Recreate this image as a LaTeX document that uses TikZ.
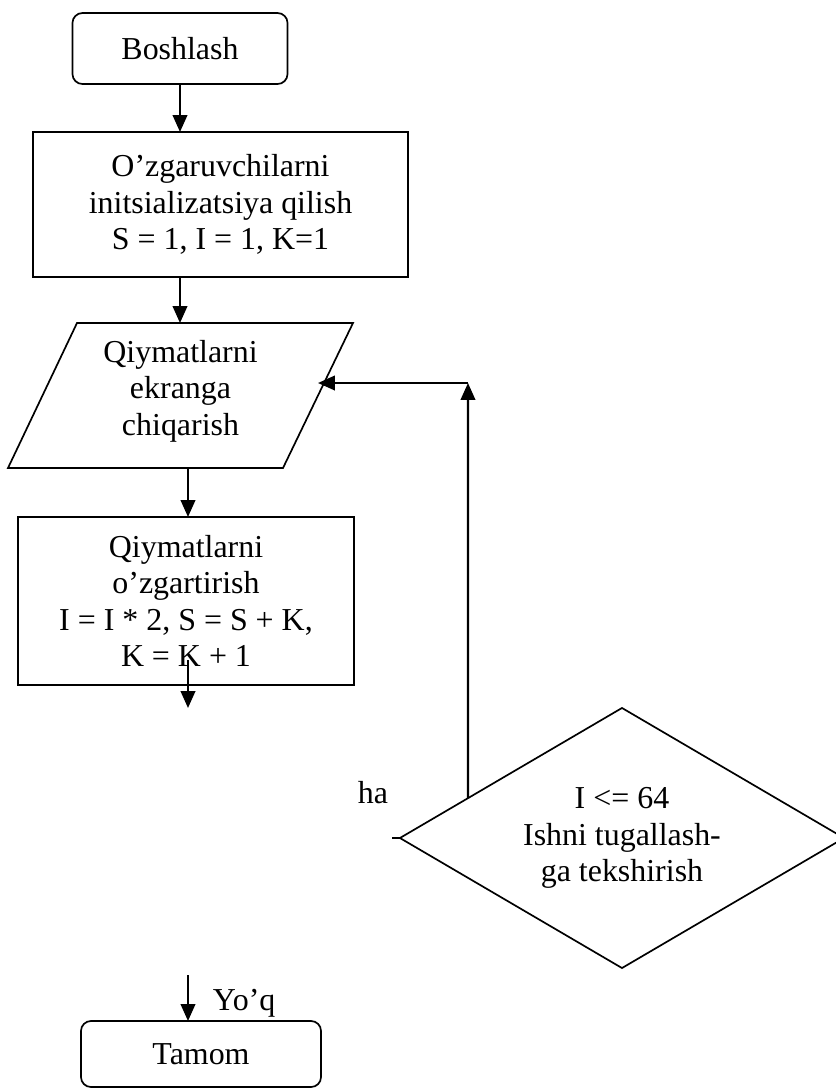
\documentclass[tikz,border=0pt]{standalone}
\usepackage{fontspec}
\setmainfont{Liberation Serif}
\usepackage{tikz}
\usetikzlibrary{arrows.meta}
\usetikzlibrary{shapes.geometric}
\usetikzlibrary{positioning}
\usetikzlibrary{calc}
\tikzset{
    >={Triangle[width=0.36cm,length=0.42cm]},
    bigtext/.style={font=\fontsize{22.7}{26}\selectfont},
    terminal/.style={draw=black, rounded corners=0.25cm, line width=1.2pt,
        align=center, inner sep=0pt, outer sep=0pt},
    process/.style={draw=black, line width=1.2pt,
        align=center, inner sep=0pt, outer sep=0pt},
    inout/.style={draw=black, line width=1.2pt, line join=miter},
    decision/.style={draw=black, diamond, aspect=1.7, line width=1.2pt,
        align=center, inner sep=0pt, outer sep=0pt},
    flow/.style={draw=black, line width=1.6pt, ->},
    flowline/.style={draw=black, line width=1.2pt},
}

\begin{document}
\begin{tikzpicture}[x=0.025cm, y=-0.025cm, every node/.append style={bigtext}]
\useasboundingbox (0,0) rectangle (836,1088);
% blocks
\node[terminal, minimum width=5.375cm, minimum height=1.775cm] (start) at (180,48.5) {Boshlash};
\node[process, minimum width=9.375cm, minimum height=3.625cm] (init) at (220.5,204.5)
    {O’zgaruvchilarni\\initsializatsiya qilish\\S = 1, I = 1, K=1};
% input/output block
\draw[inout] (77,323) -- (353,323) -- (283,468) -- (8,468) -- cycle;
\node[align=center] (show) at (180.5,391) {Qiymatlarni\\ekranga\\chiqarish};
\node[process, minimum width=8.4cm, minimum height=4.2cm] (upd) at (186,601)
    {Qiymatlarni\\o’zgartirish\\I = I * 2, S = S + K,\\K = K + 1};
\node[decision, minimum width=11.1cm, minimum height=6.5cm] (dec) at (622,838)
    {I <= 64\\Ishni tugallash-\\ga tekshirish};
\node[terminal, minimum width=6cm, minimum height=1.65cm] (tam) at (201,1054) {Tamom};
% labels
\node[anchor=base] (yes) at (373,803) {ha};
\node[anchor=base west] (no) at (208,1010) {Yo’q};
% loose ends
\coordinate (showtop) at (180,323);
\coordinate (showbot) at (188,468);
\coordinate (showright) at (318,383);
\coordinate (updout) at (188,660);
\coordinate (updend) at (188,708);
\coordinate (yesend) at (392,838);
\coordinate (noend) at (188,975);
\coordinate (loopup) at ($(dec.west)!0.306!(dec.north)$);
\coordinate (loopcorner) at (468,383);
% connectors
\draw[flow] (start.south) -- (start.south |- init.north);
\draw[flow] (showtop |- init.south) -- (showtop);
\draw[flow] (showbot) -- (showbot |- upd.north);
\draw[flow] (updout) -- (updend);
\draw[flow] (loopup) -- (loopcorner);
\draw[flow] (loopcorner) -- (showright);
\draw[flowline] (yesend) -- (dec.west);
\draw[flow] (noend) -- (noend |- tam.north);
\end{tikzpicture}
\end{document}
